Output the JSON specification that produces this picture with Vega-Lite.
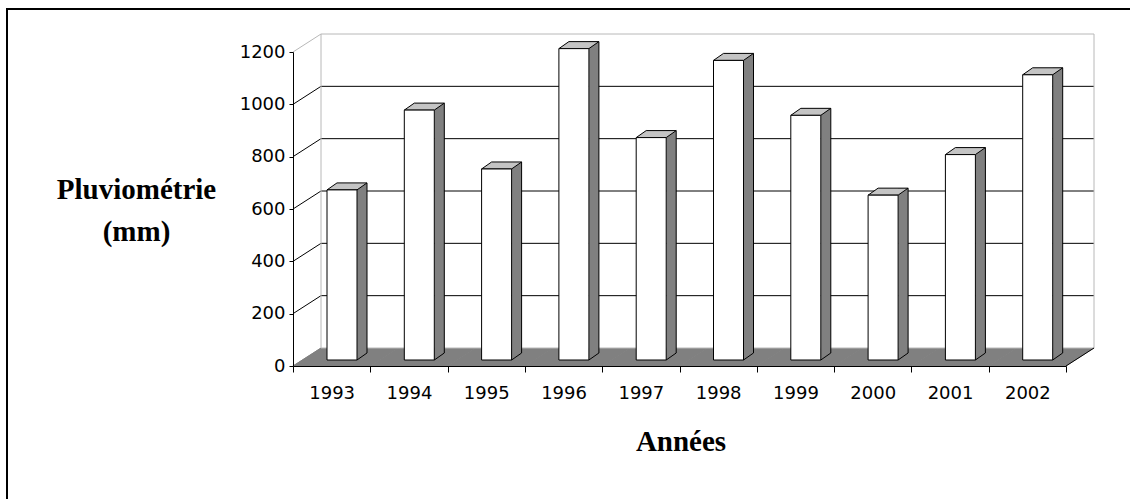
{
  "$schema": "https://vega.github.io/schema/vega-lite/v6.json",
  "usermeta": {"embedOptions": {"actions": false}},
  "width": 1130,
  "height": 495,
  "autosize": {"type": "none"},
  "padding": {"left": 7, "top": 9, "right": 0, "bottom": 0},
  "background": "white",
  "config": {
    "view": {"stroke": "black", "strokeWidth": 2, "fill": "white"},
    "axis": {"domainColor": "black", "tickColor": "black", "labelColor": "black", "titleColor": "black", "labelFont": "DejaVu Sans", "titleFont": "Liberation Serif"}
  },
  "datasets": {
    "rain": [
      {"year": "1993", "mm": 650},
      {"year": "1994", "mm": 955},
      {"year": "1995", "mm": 730},
      {"year": "1996", "mm": 1190},
      {"year": "1997", "mm": 850},
      {"year": "1998", "mm": 1145},
      {"year": "1999", "mm": 935},
      {"year": "2000", "mm": 630},
      {"year": "2001", "mm": 785},
      {"year": "2002", "mm": 1090}
    ],
    "ticks": [{"v": 0}, {"v": 200}, {"v": 400}, {"v": 600}, {"v": 800}, {"v": 1000}, {"v": 1200}],
    "one": [{"k": 1}]
  },
  "layer": [
    {
      "data": {"name": "rain"},
      "mark": {"type": "point", "shape": "M-39.2,0L39.2,0L67.2,-18L-11.2,-18Z", "size": 4, "filled": true, "fill": "#808080", "strokeWidth": 0, "opacity": 1},
      "encoding": {
        "x": {"field": "year", "type": "nominal", "scale": {"type": "band", "range": [286, 1059], "paddingInner": 0, "paddingOuter": 0},
          "axis": {"title": "Années", "offset": -138, "tickBand": "extent", "labelAngle": 0, "tickSize": 6, "labelPadding": 12, "labelFontSize": 18, "titleFontSize": 29, "titleFontWeight": "bold", "titleX": 673.5, "titleY": 84, "titleBaseline": "alphabetic", "titleAlign": "center", "zindex": 1, "domainWidth": 1}},
        "y": {"datum": 0, "type": "quantitative", "scale": {"domain": [0, 1200], "range": [357, 43], "nice": false, "zero": true},
          "axis": {"title": ["Pluviométrie", "(mm)"], "format": "d", "values": [0, 200, 400, 600, 800, 1000, 1200], "offset": -286, "grid": false, "tickSize": 4, "labelPadding": 4, "labelFontSize": 18, "titleFontSize": 29, "titleFontWeight": "bold", "titleAngle": 0, "titleAlign": "center", "titleBaseline": "alphabetic", "titleX": -157, "titleY": 189, "titleLineHeight": 42, "zindex": 1, "labelOverlap": false}}
      }
    },
    {
      "data": {"name": "ticks"},
      "mark": {"type": "rule", "strokeWidth": 1, "xOffset": -10.65, "x2Offset": 66.65, "yOffset": -18},
      "encoding": {
        "x": {"datum": "1993", "type": "nominal"},
        "x2": {"datum": "2002"},
        "y": {"field": "v", "type": "quantitative"},
        "color": {"condition": {"test": "datum.v == 1200 || datum.v == 0", "value": "#b8b8b8"}, "value": "black"}
      }
    },
    {
      "data": {"name": "ticks"},
      "mark": {"type": "rule", "strokeWidth": 1, "xOffset": -38.65, "x2Offset": -10.65, "y2Offset": -18},
      "encoding": {
        "x": {"datum": "1993", "type": "nominal"},
        "x2": {"datum": "1993"},
        "y": {"field": "v", "type": "quantitative"},
        "y2": {"field": "v"},
        "color": {"condition": {"test": "datum.v == 1200", "value": "#b8b8b8"}, "value": {"expr": "datum.v == 0 ? '#808080' : 'black'"}}
      }
    },
    {
      "data": {"name": "one"},
      "mark": {"type": "rule", "strokeWidth": 1, "color": "#b8b8b8", "xOffset": -10.65, "yOffset": -18, "y2Offset": -18},
      "encoding": {
        "x": {"datum": "1993", "type": "nominal"},
        "y": {"datum": 0, "type": "quantitative"},
        "y2": {"datum": 1200}
      }
    },
    {
      "data": {"name": "one"},
      "mark": {"type": "rule", "strokeWidth": 1, "color": "#b8b8b8", "xOffset": 66.65, "yOffset": -18, "y2Offset": -18},
      "encoding": {
        "x": {"datum": "2002", "type": "nominal"},
        "y": {"datum": 0, "type": "quantitative"},
        "y2": {"datum": 1200}
      }
    },
    {
      "data": {"name": "one"},
      "mark": {"type": "rule", "strokeWidth": 1, "color": "black", "xOffset": 38.65, "x2Offset": 66.65, "y2Offset": -18},
      "encoding": {
        "x": {"datum": "2002", "type": "nominal"},
        "x2": {"datum": "2002"},
        "y": {"datum": 0, "type": "quantitative"},
        "y2": {"datum": 0}
      }
    },
    {
      "data": {"name": "rain"},
      "mark": {"type": "bar", "width": 10, "xOffset": 30.35, "yOffset": -13, "y2Offset": -6, "fill": "#808080", "strokeWidth": 0},
      "encoding": {
        "x": {"field": "year", "type": "nominal"},
        "y": {"field": "mm", "type": "quantitative", "stack": null},
        "y2": {"datum": 0}
      }
    },
    {
      "data": {"name": "rain"},
      "mark": {"type": "point", "shape": "M-4.65,-6L25.35,-6L35.35,-13L5.35,-13Z", "size": 4, "filled": true, "fill": "#c4c4c4", "stroke": "black", "strokeWidth": 1, "opacity": 1},
      "encoding": {
        "x": {"field": "year", "type": "nominal"},
        "y": {"field": "mm", "type": "quantitative"}
      }
    },
    {
      "data": {"name": "rain"},
      "mark": {"type": "bar", "width": 30, "xOffset": 10.35, "yOffset": -6, "y2Offset": -6, "fill": "white", "stroke": "black", "strokeWidth": 1},
      "encoding": {
        "x": {"field": "year", "type": "nominal"},
        "y": {"field": "mm", "type": "quantitative", "stack": null},
        "y2": {"datum": 0}
      }
    },
    {
      "data": {"name": "rain"},
      "mark": {"type": "rule", "strokeWidth": 1, "color": "black", "xOffset": 35.35, "yOffset": -13, "y2Offset": -13},
      "encoding": {
        "x": {"field": "year", "type": "nominal"},
        "y": {"field": "mm", "type": "quantitative"},
        "y2": {"datum": 0}
      }
    },
    {
      "data": {"name": "rain"},
      "mark": {"type": "point", "shape": "M25.35,-6L35.35,-13", "size": 4, "filled": false, "stroke": "black", "strokeWidth": 1, "opacity": 1},
      "encoding": {
        "x": {"field": "year", "type": "nominal"},
        "y": {"datum": 0, "type": "quantitative"}
      }
    }
  ]
}
